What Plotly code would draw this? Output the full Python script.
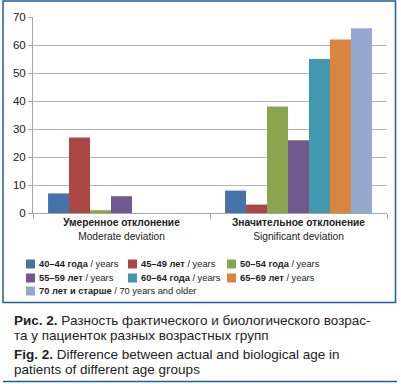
import plotly.graph_objects as go

categories = ["<b>Умеренное отклонение</b><br>Moderate deviation",
              "<b>Значительное отклонение</b><br>Significant deviation"]
series_names = ["<b>40–44 года</b> / years", "<b>45–49 лет</b> / years", "<b>50–54 года</b> / years",
                "<b>55–59 лет</b> / years", "<b>60–64 года</b> / years", "<b>65–69 лет</b> / years",
                "<b>70 лет и старше</b> / 70 years and older"]
series_values = [
    [7, 8],
    [27, 3],
    [1, 38],
    [6, 26],
    [0, 55],
    [0, 62],
    [0, 66],
]
colors = ["#4572A7", "#AA4643", "#89A54E", "#71588F", "#4198AF", "#DB843D", "#93A9CF"]
y_ticks = [0, 10, 20, 30, 40, 50, 60, 70]

SANS = "Liberation Sans, Arial, sans-serif"

W, H = 401, 384
L, R, T, B = 33, 387, 17, 213
def xp(px):
    return (px - L) / (R - L)
def yp(py):
    return (B - py) / (B - T)

fig = go.Figure()
for name, vals, col in zip(series_names, series_values, colors):
    fig.add_trace(go.Bar(x=categories, y=vals, name=name, marker=dict(color=col, line=dict(width=0)),
                         showlegend=False))

shapes = []
annotations = []
# outer frame
shapes.append(dict(type="rect", xref="paper", yref="paper", x0=xp(3), x1=xp(395.5), y0=yp(302.5), y1=yp(1),
                   line=dict(color="#1d5d9f", width=1.5), layer="below"))
# bottom rule
shapes.append(dict(type="line", xref="paper", yref="paper", x0=xp(3), x1=xp(397), y0=yp(381.5), y1=yp(381.5),
                   line=dict(color="#1d5d9f", width=1.5)))

# manual legend (3 columns)
col_x = [26, 128, 227]
row_y = [264, 278, 291]
for i, (name, col) in enumerate(zip(series_names, colors)):
    cx = col_x[i % 3]
    cy = row_y[i // 3]
    shapes.append(dict(type="rect", xref="paper", yref="paper", x0=xp(cx), x1=xp(cx + 9),
                       y0=yp(cy + 4.5), y1=yp(cy - 4.5), fillcolor=col, line=dict(width=0)))
    annotations.append(dict(text=name, xref="paper", yref="paper", x=xp(cx + 11), y=yp(cy),
                            xanchor="left", yanchor="middle", showarrow=False,
                            font=dict(family=SANS, size=9.3, color="#222")))

# caption
caption = [
    ("<b>Рис. 2.</b> Разность фактического и биологического возрас-", 320),
    ("та у пациенток разных возрастных групп", 335),
    ("<b>Fig. 2.</b> Difference between actual and biological age in", 354),
    ("patients of different age groups", 369),
]
for txt, cy in caption:
    annotations.append(dict(text=txt, xref="paper", yref="paper", x=xp(12), y=yp(cy),
                            xanchor="left", yanchor="middle", showarrow=False,
                            font=dict(family=SANS, size=13.5, color="#222")))

fig.update_layout(
    width=W, height=H,
    margin=dict(l=L, r=W - R, t=T, b=H - B, pad=0, autoexpand=False),
    paper_bgcolor="white", plot_bgcolor="white",
    barmode="group", bargap=0.17, bargroupgap=0,
    showlegend=False,
    shapes=shapes, annotations=annotations,
    xaxis=dict(type="category", showline=True, linecolor="#a6a6a6", linewidth=1,
               ticks="outside", tickson="boundaries", ticklen=5, tickcolor="#a6a6a6",
               tickfont=dict(family=SANS, size=10.2, color="#222"), showgrid=False,
               automargin=False),
    yaxis=dict(range=[0, 70], tickvals=y_ticks, showline=True, linecolor="#a6a6a6", linewidth=1,
               ticks="outside", ticklen=4, tickcolor="#a6a6a6", showgrid=True, gridcolor="#b4b4b4",
               gridwidth=1, zeroline=False, automargin=False,
               tickfont=dict(family=SANS, size=11.5, color="#222")),
)
fig.write_html("out.html", config={"displayModeBar": False},
               post_script="document.body.style.margin='0px';")
